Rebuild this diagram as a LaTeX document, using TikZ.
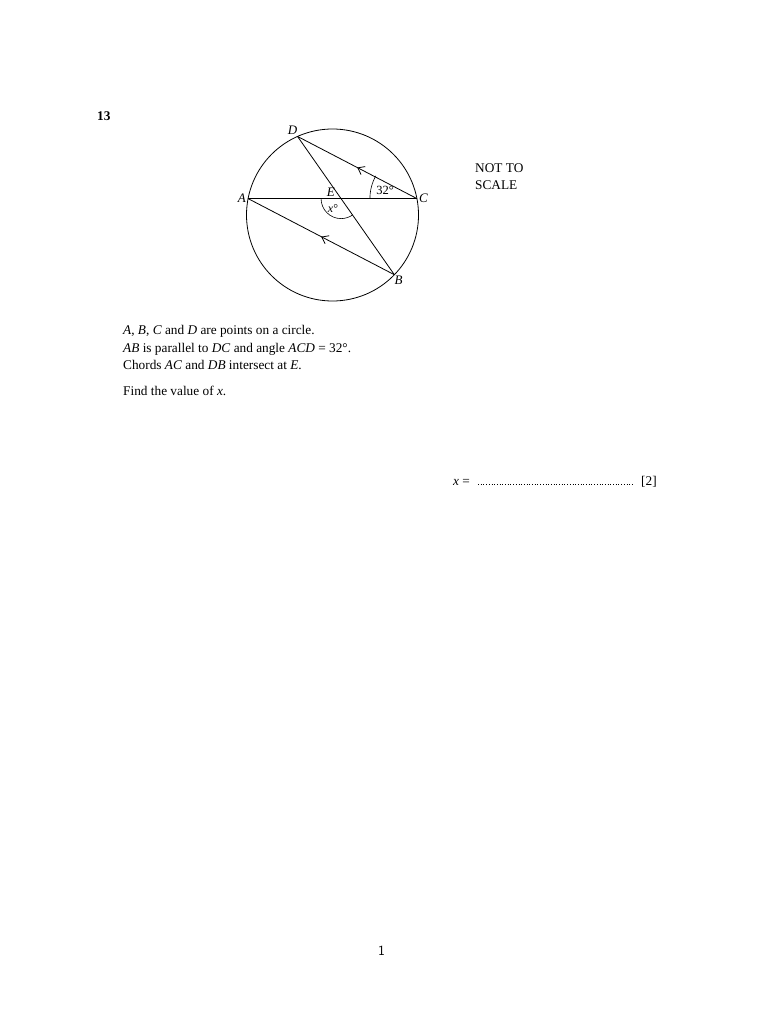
\documentclass[tikz,border=0pt]{standalone}
\usepackage{fontspec}
\setmainfont{Liberation Serif}
\usetikzlibrary{calc,arrows.meta,decorations.markings}
\begin{document}
\begin{tikzpicture}[x=1pt,y=-1pt,
  txt/.style={anchor=base west,inner sep=0pt,font=\fontsize{13.3}{15}\selectfont},
  lbl/.style={inner sep=1pt,font=\fontsize{13}{15}\selectfont\itshape},
  geo/.style={line width=0.8pt},
  midarrow/.style={postaction={decorate},decoration={markings,mark=at position 0.5 with {\arrow{Straight Barb[length=6pt,width=9pt,line width=0.8pt]}}}}]
\useasboundingbox (0,0) rectangle (768,1024);
\fill[white] (0,0) rectangle (768,1024);
% geometry
\coordinate (O) at (332.5,215);
\def\R{86}
\coordinate (A) at ($(O)+({\R*cos(169)},{-\R*sin(169)})$);
\coordinate (C) at ($(O)+({\R*cos(11)},{-\R*sin(11)})$);
\coordinate (D) at ($(O)+({\R*cos(114)},{-\R*sin(114)})$);
\coordinate (B) at ($(O)+({\R*cos(-44)},{-\R*sin(-44)})$);
\coordinate (E) at (intersection of A--C and D--B);
\draw[geo] (O) circle (\R);
\draw[geo] (A) -- (C);
\draw[geo] (D) -- (B);
\draw[geo,midarrow] (C) -- (D);
\draw[geo,midarrow] (B) -- (A);
% angle arcs
\draw[line width=0.6pt] ($(C)+(-47,0)$) arc[start angle=180,end angle=209,radius=47];
\draw[line width=0.6pt] ($(E)+(-20,0)$) arc[start angle=180,end angle=54,radius=20];
% labels
\node[lbl,anchor=south east] (lD) at ($(D)+(1,-1)$) {D};
\node[lbl,anchor=east] (lA) at ($(A)+(-1,0)$) {A};
\node[lbl,anchor=west] (lC) at ($(C)+(1,0)$) {C};
\node[lbl,anchor=north west] (lB) at ($(B)+(-1,0)$) {B};
\node[lbl,anchor=south east] (lE) at ($(E)+(-5,-1)$) {E};
\node[inner sep=0pt,font=\fontsize{12.5}{14}\selectfont] (l32) at (385,190) {32°};
\node[inner sep=0pt,font=\fontsize{12}{14}\selectfont] (lx) at (333,209) {\textit{x}°};
% texts
\node[txt,font=\fontsize{13.3}{15}\selectfont\bfseries] (q) at (97,121) {13};
\node[txt] (n1) at (475,173) {NOT TO};
\node[txt] (n2) at (475,190) {SCALE};
\node[txt] (t1) at (123,334) {\textit{A}, \textit{B}, \textit{C} and \textit{D} are points on a circle.};
\node[txt] (t2) at (123,352) {\textit{AB} is parallel to \textit{DC} and angle \textit{ACD} = 32°.};
\node[txt] (t3) at (123,369) {Chords \textit{AC} and \textit{DB} intersect at \textit{E}.};
\node[txt] (t4) at (123,395) {Find the value of \textit{x}.};
\node[txt] (ans) at (453,485) {\textit{x} =};
\draw[line width=0.7pt,dotted] (478,484) -- (634,484);
\node[txt] (mk) at (641,485) {[2]};
\node[txt,font=\fontsize{14}{16}\selectfont\sffamily] (pg) at (378,955) {1};
\end{tikzpicture}
\end{document}
